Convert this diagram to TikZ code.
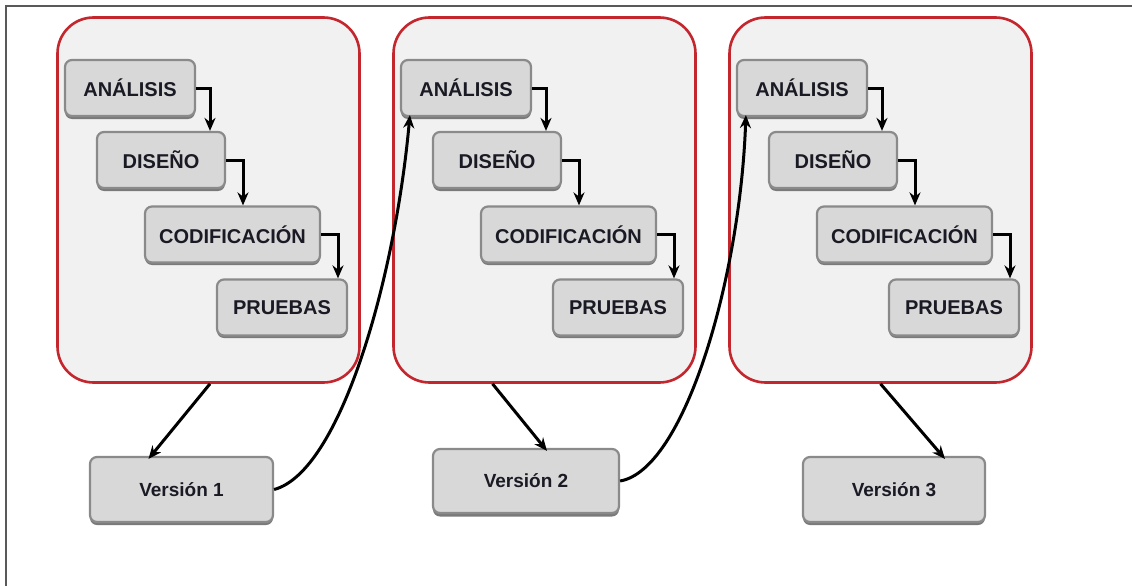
\documentclass[tikz,border=0pt]{standalone}
\usepackage{fontspec}
\setmainfont{Liberation Sans}
\usetikzlibrary{arrows.meta,calc}
\definecolor{redline}{HTML}{C4262E}
\definecolor{contfill}{HTML}{F2F1F1}
\definecolor{boxfill}{HTML}{D8D8D8}
\definecolor{boxline}{HTML}{8A8A8A}
\definecolor{shadowc}{HTML}{7A7A7A}
\definecolor{txt}{HTML}{1A1A24}
\tikzset{
  container/.style={draw=redline, line width=2.6pt, fill=contfill, rounded corners=36pt, inner sep=0pt},
  stepbox/.style={draw=boxline, line width=2.2pt, fill=boxfill, rounded corners=7pt, inner sep=0pt,
     font=\fontsize{20}{22}\selectfont\bfseries, text=txt, minimum height=56pt},
  verbox/.style={stepbox, minimum height=65pt, font=\fontsize{19}{21}\selectfont\bfseries},
  flow/.style={draw=black, line width=3pt, -{Stealth[length=13pt,width=11pt]}},
  shad/.style={fill=shadowc, rounded corners=7pt}
}
\begin{document}
\begin{tikzpicture}[x=1pt,y=-1pt]
\useasboundingbox (0,0) rectangle (1132,586);
\fill[white] (0,0) rectangle (1132,586);
\draw[line width=1.6pt, color=black!65] (6,586) -- (6,6) -- (1132,6);

% containers
\foreach \i/\dx in {1/0,2/336,3/672}{
  \node[container, minimum width=302pt, minimum height=365pt] (K\i) at (208.5+\dx,200) {};
}
% step boxes
\foreach \i/\dx in {1/0,2/336,3/672}{
  \fill[shad] (65+\dx,63) rectangle (195+\dx,119);
  \node[stepbox, minimum width=130pt] (A\i) at (130+\dx,88) {ANÁLISIS};
  \fill[shad] (97+\dx,135) rectangle (225+\dx,191);
  \node[stepbox, minimum width=128pt] (D\i) at (161+\dx,160) {DISEÑO};
  \fill[shad] (145+\dx,210) rectangle (320+\dx,265);
  \node[stepbox, minimum width=175pt] (C\i) at (232.5+\dx,234.5) {CODIFICACIÓN};
  \fill[shad] (217+\dx,283) rectangle (347+\dx,338);
  \node[stepbox, minimum width=130pt] (P\i) at (282+\dx,307.5) {PRUEBAS};
  \draw[flow] (A\i.east) -| ([xshift=49pt]D\i.north);
  \draw[flow] (D\i.east) -| ([xshift=10.5pt]C\i.north);
  \draw[flow] (C\i.east) -| ([xshift=56pt]P\i.north);
}

% version boxes
\fill[shad] (90,460) rectangle (273,525);
\node[verbox, minimum width=183pt] (V1) at (181.5,489.5) {Versión 1};
\fill[shad] (433,452) rectangle (619,516.5);
\node[verbox, minimum width=186pt, minimum height=64pt] (V2) at (526,481) {Versión 2};
\fill[shad] (803,460) rectangle (985,525);
\node[verbox, minimum width=182pt] (V3) at (894,489.5) {Versión 3};

% container -> version
\draw[flow] ([xshift=1.5pt]K1.south) -- ([xshift=-33pt,yshift=-3pt]V1.north);
\draw[flow] ([xshift=-52pt]K2.south) -- ([xshift=21pt,yshift=-3pt]V2.north);
\draw[flow] ([xshift=0pt]K3.south) -- ([xshift=51pt,yshift=-3pt]V3.north);

% version -> next analysis
\draw[flow] (V1.east) .. controls (340,472) and (395,280) .. ([xshift=10pt,yshift=2pt]A2.south west);
\draw[flow] (V2.east) .. controls (684,470) and (740,280) .. ([xshift=10pt,yshift=2pt]A3.south west);
\end{tikzpicture}
\end{document}
